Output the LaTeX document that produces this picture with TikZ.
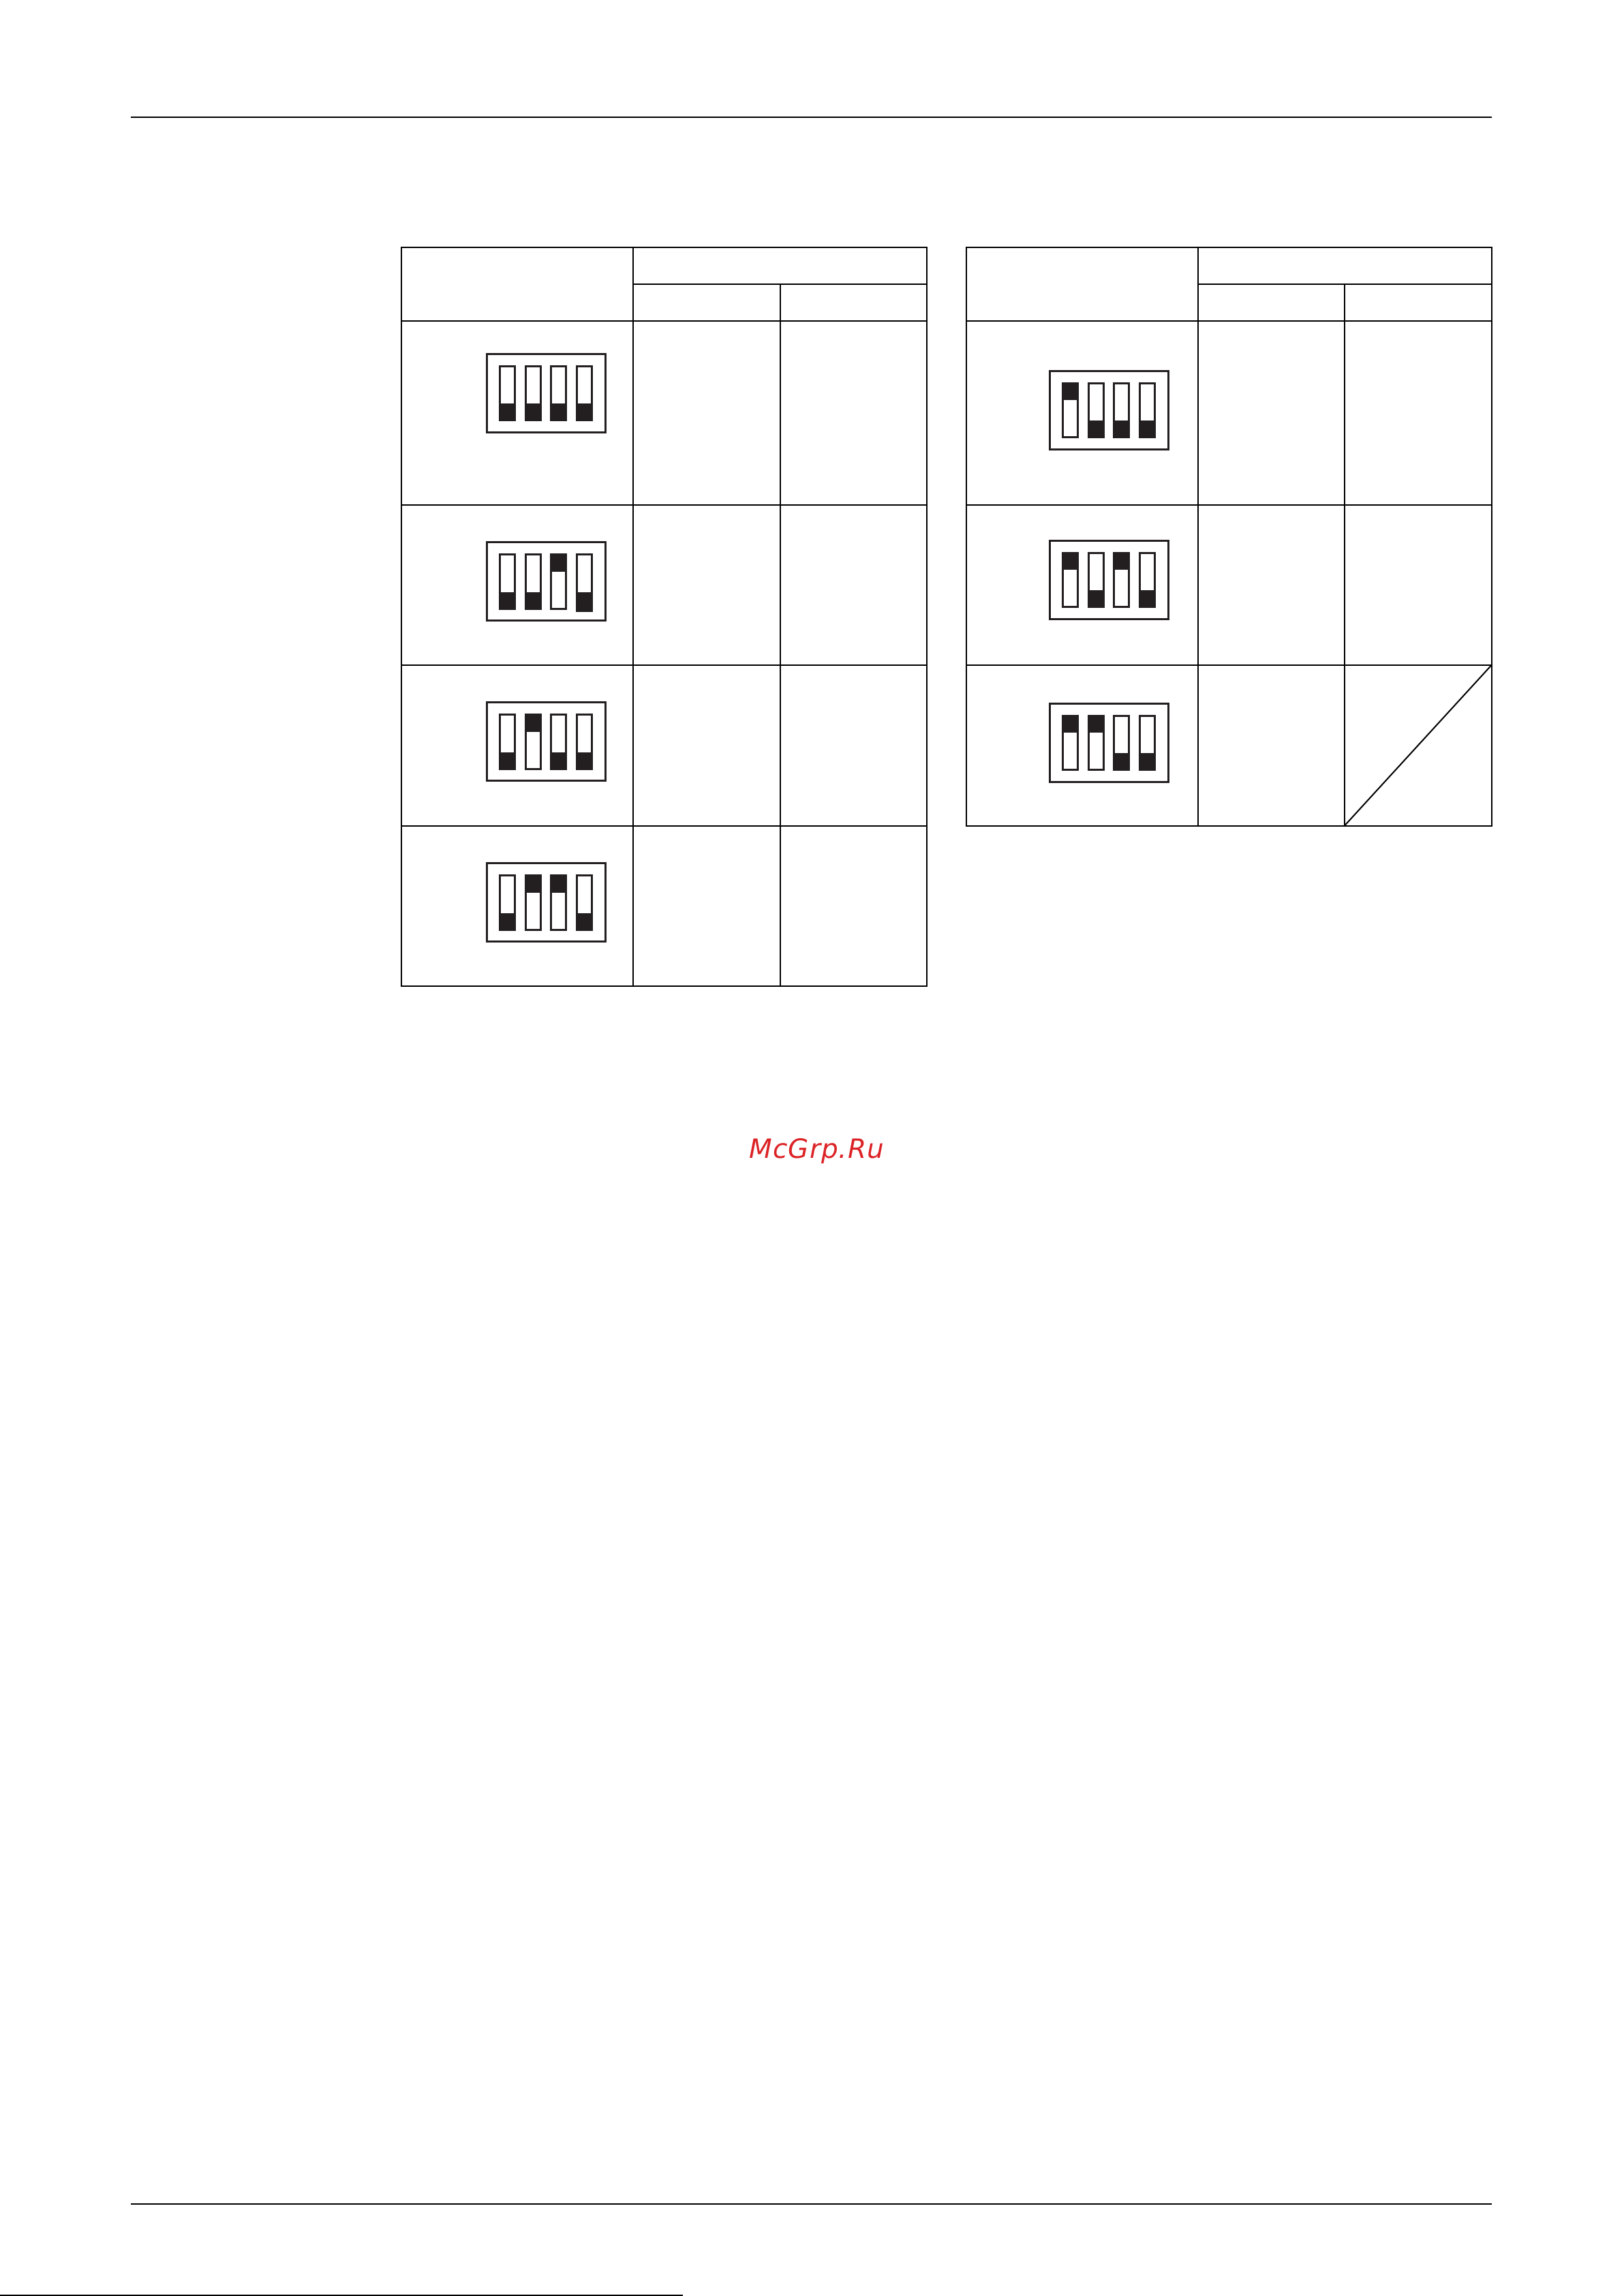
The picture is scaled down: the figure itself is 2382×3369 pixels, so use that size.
\documentclass[tikz,border=0pt]{standalone}
\usepackage{xcolor}
\usepackage{fontspec}
\usepackage{tikz}
\newfontfamily\markfont[LetterSpace=2.6]{DejaVu Sans}
\definecolor{swink}{HTML}{231F20}
\definecolor{markred}{HTML}{DC2326}
\tikzset{
    tableline/.style={draw=black, line width=.2mm},
    pagerule/.style={draw=black, line width=.2mm},
    swbox/.style={draw=swink, line width=.3mm},
    swslot/.style={draw=swink, line width=.27mm},
}
% one dip switch: left, top, and 4 positions (1 = up)
\newcommand{\dipswitch}[6]{
    \draw[swbox] (#1+.5,#2+1) rectangle ++(173.5,115);
    \foreach \xoff/\pos in {18/#3,56/#4,93/#5,131/#6} {
        \draw[swslot] (#1+\xoff+1.3,#2+19.3) rectangle ++(22.4,79.4);
        \ifnum\pos=1
            \fill[swink] (#1+\xoff,#2+18) rectangle ++(25,26);
        \else
            \fill[swink] (#1+\xoff,#2+74) rectangle ++(25,26);
        \fi
    }
}
\begin{document}
\begin{tikzpicture}[x=.1mm,y=-.1mm]
    \useasboundingbox (0,0) rectangle (2382,3369);
    % page rules
    \draw[pagerule] (192,172) -- (2188.5,172);
    \draw[pagerule] (192,3234) -- (2188.5,3234);
    \draw[pagerule] (0,3368) -- (1002,3368);
    % left table
    \draw[tableline] (589,363) rectangle (1360,1447);
    \draw[tableline] (929,363) -- (929,1447);
    \draw[tableline] (1145,417) -- (1145,1447);
    \draw[tableline] (929,417) -- (1360,417);
    \foreach \rowy in {471,741,976,1212}
        \draw[tableline] (589,\rowy) -- (1360,\rowy);
    % right table
    \draw[tableline] (1417.5,363) rectangle (2188.5,1212);
    \draw[tableline] (1758,363) -- (1758,1212);
    \draw[tableline] (1972.5,417) -- (1972.5,1212);
    \draw[tableline] (1758,417) -- (2188.5,417);
    \foreach \rowy in {471,741,976}
        \draw[tableline] (1417.5,\rowy) -- (2188.5,\rowy);
    \draw[tableline] (1972.5,1212) -- (2188.5,976);
    % switches
    \dipswitch{714}{518}{0}{0}{0}{0}
    \dipswitch{714}{794.5}{0}{0}{1}{0}
    \fill[swink] (845,892) rectangle ++(25,6); % 4th knob of this one sits lower
    \dipswitch{714}{1029.5}{0}{1}{0}{0}
    \dipswitch{714}{1265.5}{0}{1}{1}{0}
    \dipswitch{1540}{543}{1}{0}{0}{0}
    \dipswitch{1540}{792}{1}{0}{1}{0}
    \dipswitch{1540}{1031}{1}{1}{0}{0}
    % watermark
    \node[text=markred, anchor=base west, inner sep=0pt] (mark) at (1099,1699)
        {\fontsize{11.1pt}{13pt}\markfont\itshape McGrp.Ru};
\end{tikzpicture}
\end{document}
